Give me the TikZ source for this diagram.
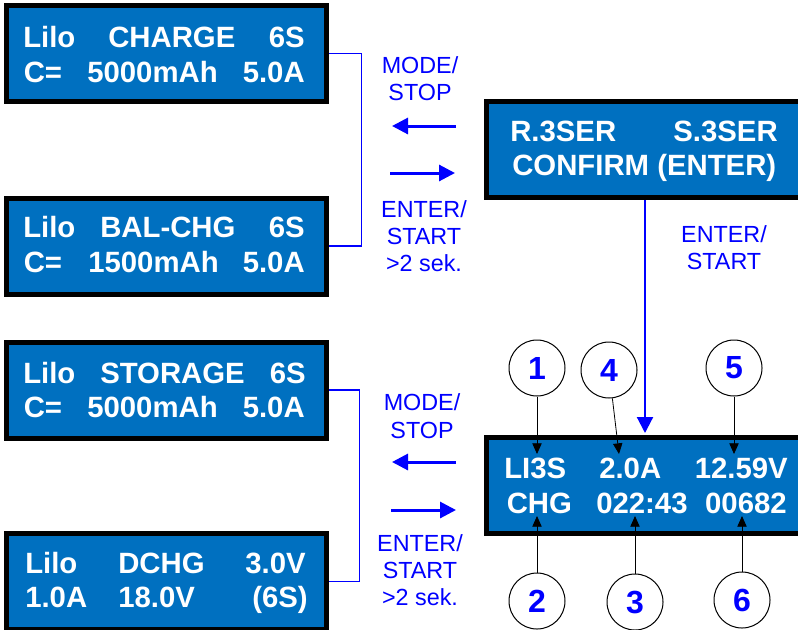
\documentclass[tikz,border=0pt]{standalone}
\usepackage{fontspec}
\setmainfont{Liberation Sans}
\usepackage{tikz}
\usetikzlibrary{calc}
\usetikzlibrary{positioning}
\usetikzlibrary{arrows.meta}

\definecolor{lcdblue}{RGB}{0,112,192}
\definecolor{keyblue}{RGB}{0,0,255}
\newcommand{\lcdfnt}{\fontsize{22pt}{26pt}\selectfont\bfseries}
\newcommand{\numfnt}{\fontsize{24pt}{28pt}\selectfont\bfseries}
\newcommand{\keyfnt}{\fontsize{17.5pt}{20.5pt}\selectfont}

\tikzset{
    lcd/.style={rectangle, draw=black, line width=3.75pt, fill=lcdblue, minimum width=240pt, minimum height=72pt, inner sep=0pt},
    lcdtxt/.style={text=white, font=\lcdfnt, inner sep=0pt, anchor=base west},
    keytxt/.style={text=keyblue, font=\keyfnt, align=center, inner sep=0pt},
    keyarrow/.style={draw=keyblue, line width=2.25pt, -{Triangle[length=12pt,width=12pt]}},
    bracket/.style={draw=keyblue, line width=1.2pt},
    numcircle/.style={circle, draw=black, line width=0.75pt, minimum size=42pt, inner sep=0pt, text=keyblue, font=\numfnt},
    pointer/.style={draw=black, line width=0.6pt, -{Triangle[length=8pt,width=7pt]}}
}

\begin{document}
\begin{tikzpicture}[x=0.75pt, y=-0.75pt]
    \useasboundingbox (0,0) rectangle (798,629);
    \clip (0,0) rectangle (798,629);

    % display boxes
    \node [lcd] (chg) at (166.5,53.5) {};
    \node [lcd] (bal) at (166.5,246) {};
    \node [lcd] (sto) at (166.5,390) {};
    \node [lcd] (dch) at (166.5,581.5) {};
    \node [lcd, minimum width=250pt] (confirm) at (653.25,149.5) {};
    \node [lcd, minimum width=250pt] (run) at (653.25,485.5) {};

    % display texts
    \node [lcdtxt] (chga) at (23,47) {Lilo};
    \node [lcdtxt] (chgb) at (108,47) {CHARGE};
    \node [lcdtxt, anchor=base east] (chgc) at (305,47) {6S};
    \node [lcdtxt] (chgd) at (23.5,82) {C=};
    \node [lcdtxt] (chge) at (87,82) {5000mAh};
    \node [lcdtxt, anchor=base east] (chgf) at (305,82) {5.0A};

    \node [lcdtxt] (bala) at (23,237) {Lilo};
    \node [lcdtxt] (balb) at (100,237) {BAL-CHG};
    \node [lcdtxt, anchor=base east] (balc) at (305,237) {6S};
    \node [lcdtxt] (bald) at (23.5,272) {C=};
    \node [lcdtxt] (bale) at (88,272) {1500mAh};
    \node [lcdtxt, anchor=base east] (balf) at (305,272) {5.0A};

    \node [lcdtxt] (stoa) at (23,383) {Lilo};
    \node [lcdtxt] (stob) at (100,383) {STORAGE};
    \node [lcdtxt, anchor=base east] (stoc) at (306,383) {6S};
    \node [lcdtxt] (stod) at (23.5,417) {C=};
    \node [lcdtxt] (stoe) at (87,417) {5000mAh};
    \node [lcdtxt, anchor=base east] (stof) at (305,417) {5.0A};

    \node [lcdtxt] (dcha) at (25,573) {Lilo};
    \node [lcdtxt] (dchb) at (118,573) {DCHG};
    \node [lcdtxt, anchor=base east] (dchc) at (306,573) {3.0V};
    \node [lcdtxt] (dchd) at (25,607) {1.0A};
    \node [lcdtxt] (dche) at (118,607) {18.0V};
    \node [lcdtxt, anchor=base east] (dchf) at (308,607) {(6S)};

    \node [lcdtxt] (cfa) at (510,141) {R.3SER};
    \node [lcdtxt, anchor=base east] (cfb) at (778,141) {S.3SER};
    \node [lcdtxt] (cfc) at (512,175) {CONFIRM (ENTER)};

    \node [lcdtxt] (runa) at (504,478) {LI3S};
    \node [lcdtxt] (runb) at (599,478) {2.0A};
    \node [lcdtxt, anchor=base east] (runc) at (788,478) {12.59V};
    \node [lcdtxt] (rund) at (506.5,513) {CHG};
    \node [lcdtxt] (rune) at (596,513) {022:43};
    \node [lcdtxt, anchor=base east] (runf) at (787,513) {00682};

    % key labels
    \node [keytxt] (mode1) at (420,78.5) {MODE/\\STOP};
    \node [keytxt] (enter1) at (424,236) {ENTER/\\START\\>2 sek.};
    \node [keytxt] (mode2) at (422,416) {MODE/\\STOP};
    \node [keytxt] (enter2) at (420,570) {ENTER/\\START\\>2 sek.};
    \node [keytxt] (enter3) at (724,247.5) {ENTER/\\START};

    % brackets
    \draw [bracket] (chg.east) -- ++(32.5,0) |- (bal.east);
    \draw [bracket] (sto.east) -- ++(30.5,0) |- (dch.east);

    % key arrows
    \coordinate (back1a) at (456,126);
    \coordinate (back1b) at (392,126);
    \coordinate (fwd1a) at (390,173);
    \coordinate (fwd1b) at (455,173);
    \coordinate (back2a) at (456,462);
    \coordinate (back2b) at (392,462);
    \coordinate (fwd2a) at (391,510);
    \coordinate (fwd2b) at (456,510);
    \draw [keyarrow] (back1a) -- (back1b);
    \draw [keyarrow] (fwd1a) -- (fwd1b);
    \draw [keyarrow] (back2a) -- (back2b);
    \draw [keyarrow] (fwd2a) -- (fwd2b);

    \coordinate (drop) at (645,0);
    \draw [keyarrow, line width=1.6pt] (confirm.south -| drop) -- ($(run.north -| drop) + (0,-2)$);

    % numbered callouts
    \node [numcircle] (n1) at (537,368) {1};
    \node [numcircle] (n4) at (609,370) {4};
    \node [numcircle] (n5) at (734,368) {5};
    \node [numcircle] (n2) at (537,601) {2};
    \node [numcircle] (n3) at (635,602) {3};
    \node [numcircle] (n6) at (742,600) {6};

    \coordinate (p1) at (537,454);
    \coordinate (p4) at (619,454);
    \coordinate (p5) at (734,454);
    \coordinate (p2) at (537,516);
    \coordinate (p3) at (635,516);
    \coordinate (p6) at (742,516);
    \draw [pointer] (n1) -- (p1);
    \draw [pointer] (n4) -- (p4);
    \draw [pointer] (n5) -- (p5);
    \draw [pointer] (n2) -- (p2);
    \draw [pointer] (n3) -- (p3);
    \draw [pointer] (n6) -- (p6);
\end{tikzpicture}
\end{document}
